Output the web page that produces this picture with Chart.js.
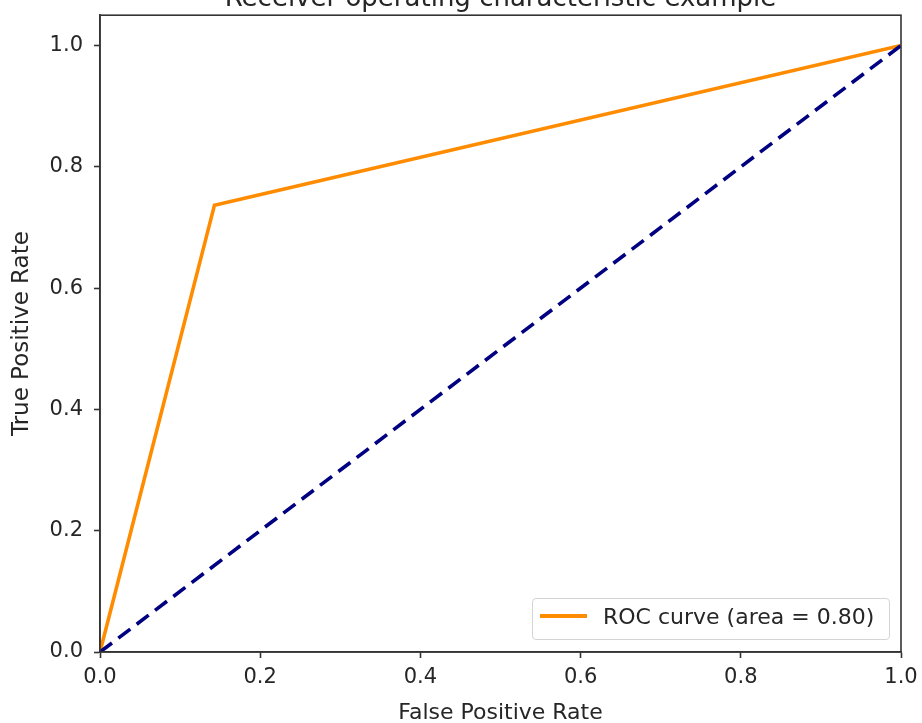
<!DOCTYPE html>
<html>
<head>
<meta charset="utf-8">
<script src="https://cdn.jsdelivr.net/npm/chart.js@4/dist/chart.umd.min.js"></script>
<style>
  html, body { margin: 0; padding: 0; background: #fff; overflow: hidden; }
  #wrap { position: absolute; left: 0; top: -22px; width: 922px; height: 745px; }
  #legend { position: absolute; left: 532px; top: 598px; width: 358px; height: 42px;
    box-sizing: border-box; border: 1px solid #d4d4d4; border-radius: 4px;
    background: rgba(255,255,255,0.85); font-family: 'DejaVu Sans', sans-serif; }
  #legend ul { list-style: none; margin: 0; padding: 0; height: 100%; }
</style>
</head>
<body>
<div id="wrap"><canvas id="roc"></canvas></div>
<div id="legend"></div>
<script>
// roc points
const fpr = [0.0, 0.1429, 1.0];
const tpr = [0.0, 0.7368, 1.0];
// chance line
const chanceX = [0.0, 1.0];
const chanceY = [0.0, 1.0];
const xTicks = [0.0, 0.2, 0.4, 0.6, 0.8, 1.0];
const yTicks = [0.0, 0.2, 0.4, 0.6, 0.8, 1.0];
const rocLabel = 'ROC curve (area = 0.80)';

const FONT = "'DejaVu Sans', sans-serif";
const INK = '#262626';

const toPoints = (xs, ys) => xs.map((x, i) => ({x: x, y: ys[i]}));

const getOrCreateLegendList = (id) => {
  const legendContainer = document.getElementById(id);
  let listContainer = legendContainer.querySelector('ul');
  if (!listContainer) {
    listContainer = document.createElement('ul');
    legendContainer.appendChild(listContainer);
  }
  return listContainer;
};

const htmlLegendPlugin = {
  id: 'htmlLegend',
  afterUpdate(chart, args, options) {
    const ul = getOrCreateLegendList(options.containerID);
    while (ul.firstChild) {
      ul.firstChild.remove();
    }
    const items = chart.options.plugins.legend.labels.generateLabels(chart)
      .filter(item => chart.data.datasets[item.datasetIndex].label);

    items.forEach(item => {
      const li = document.createElement('li');
      li.style.display = 'flex';
      li.style.alignItems = 'center';
      li.style.height = '100%';
      li.style.boxSizing = 'border-box';
      li.style.paddingBottom = '6px';

      // line sample
      const lineSpan = document.createElement('span');
      lineSpan.style.display = 'inline-block';
      lineSpan.style.width = '47px';
      lineSpan.style.height = '3.5px';
      lineSpan.style.background = item.strokeStyle;
      lineSpan.style.marginLeft = '7px';
      lineSpan.style.flexShrink = 0;

      const text = document.createElement('p');
      text.style.margin = 0;
      text.style.marginLeft = '16px';
      text.style.fontSize = '22px';
      text.style.color = INK;
      text.style.whiteSpace = 'nowrap';
      text.appendChild(document.createTextNode(item.text));

      li.appendChild(lineSpan);
      li.appendChild(text);
      ul.appendChild(li);
    });
  }
};

// matplotlib style box round the axes
const frame = {
  id: 'frame',
  afterDatasetsDraw(chart) {
    const {ctx, chartArea: a} = chart;
    ctx.save();
    ctx.strokeStyle = '#333';
    ctx.lineWidth = 1.6;
    ctx.strokeRect(a.left, a.top, a.right - a.left, a.bottom - a.top);
    ctx.restore();
  }
};

const tickFmt = v => Number(v).toFixed(1);

new Chart(document.getElementById('roc'), {
  type: 'scatter',
  data: {
    datasets: [
      {
        label: rocLabel,
        data: toPoints(fpr, tpr),
        showLine: true,
        borderColor: '#ff8c00',
        backgroundColor: '#ff8c00',
        borderWidth: 3.6,
        pointRadius: 0,
        order: 2
      },
      {
        label: '',
        data: toPoints(chanceX, chanceY),
        showLine: true,
        borderColor: '#000080',
        backgroundColor: '#000080',
        borderWidth: 3.6,
        borderDash: [15, 8],
        pointRadius: 0,
        order: 1
      }
    ]
  },
  options: {
    responsive: true,
    maintainAspectRatio: false,
    animation: false,
    layout: { padding: 0 },
    plugins: {
      htmlLegend: { containerID: 'legend' },
      legend: { display: false },
      tooltip: { enabled: false },
      title: {
        display: true,
        fullSize: false,
        text: 'Receiver operating characteristic example',
        color: INK,
        font: { family: FONT, size: 26, weight: 'normal' },
        padding: { top: 6, bottom: 0 }
      }
    },
    scales: {
      x: {
        type: 'linear',
        min: 0, max: 1,
        grid: { display: true, drawOnChartArea: false, drawTicks: true, tickLength: 6, tickColor: '#333', tickWidth: 1.6 },
        border: { display: true, color: '#333', width: 1.6 },
        ticks: { color: INK, font: { family: FONT, size: 21 }, padding: 7, callback: tickFmt, maxRotation: 0 },
        afterBuildTicks: s => { s.ticks = xTicks.map(v => ({value: v})); },
        afterFit: s => { s.height = 71; s.paddingLeft = 0; s.paddingRight = 21; },
        title: { display: true, text: 'False Positive Rate', color: INK,
          font: { family: FONT, size: 22, lineHeight: 0.85 }, padding: { top: 0, bottom: 0 } }
      },
      y: {
        type: 'linear',
        min: 0, max: 1.05,
        grid: { display: true, drawOnChartArea: false, drawTicks: true, tickLength: 6, tickColor: '#333', tickWidth: 1.6 },
        border: { display: true, color: '#333', width: 1.6 },
        ticks: { color: INK, font: { family: FONT, size: 21 }, padding: 11, callback: tickFmt },
        afterBuildTicks: s => { s.ticks = yTicks.map(v => ({value: v})); },
        afterFit: s => { s.width = 100; s.paddingTop = 0; s.paddingBottom = 0; },
        title: { display: true, text: 'True Positive Rate', color: INK,
          font: { family: FONT, size: 23, lineHeight: 1 }, padding: { top: 11, bottom: 0 } }
      }
    }
  },
  plugins: [htmlLegendPlugin, frame]
});
</script>
</body>
</html>
